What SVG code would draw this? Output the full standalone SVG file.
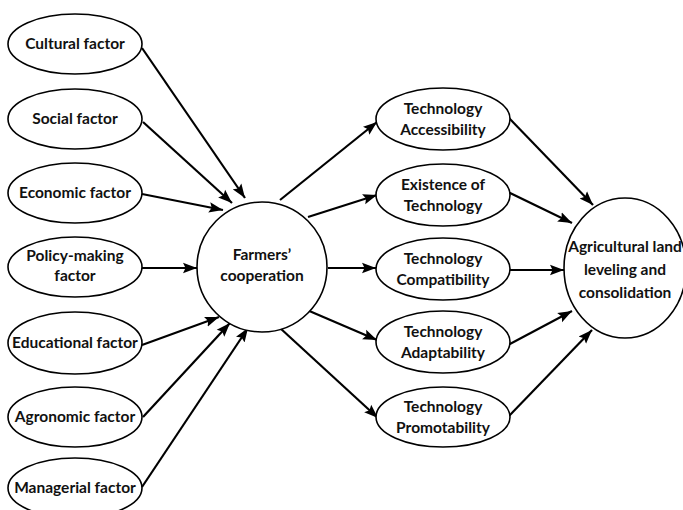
<svg xmlns="http://www.w3.org/2000/svg" width="683" height="510" viewBox="0 0 683 510">
  <style>
    .node { fill: #ffffff; stroke: #000000; stroke-width: 1.6; }
    .label { font-family: Lato, "Liberation Sans", sans-serif; font-weight: bold; font-size: 15.5px; fill: #111111; text-anchor: middle; }
    .edge { stroke: #000000; stroke-width: 2.2; fill: none; marker-end: url(#arrow); }
  </style>
  <defs>
    <marker id="arrow" markerUnits="userSpaceOnUse" markerWidth="15" markerHeight="12" viewBox="0 0 15 12" refX="14" refY="6" orient="auto">
      <path d="M0,0.8 L14,6 L0,11.2 L2.5,6 z" fill="#000000"/>
    </marker>
  </defs>
  <rect width="683" height="510" fill="#ffffff"/>

  <!-- connectors -->
  <g id="connectors">
    <line class="edge" x1="142" y1="48" x2="245" y2="198"/>
    <line class="edge" x1="143" y1="122" x2="232" y2="203"/>
    <line class="edge" x1="142" y1="194" x2="223" y2="210"/>
    <line class="edge" x1="142" y1="268" x2="197" y2="268"/>
    <line class="edge" x1="142" y1="345" x2="219" y2="317"/>
    <line class="edge" x1="143" y1="417" x2="230" y2="323"/>
    <line class="edge" x1="142" y1="487" x2="248" y2="328"/>
    <line class="edge" x1="280" y1="200" x2="377" y2="122"/>
    <line class="edge" x1="308" y1="217" x2="377" y2="195"/>
    <line class="edge" x1="328" y1="268" x2="376" y2="268"/>
    <line class="edge" x1="307" y1="310" x2="377" y2="340"/>
    <line class="edge" x1="280" y1="328" x2="378" y2="418"/>
    <line class="edge" x1="508" y1="117" x2="593" y2="205"/>
    <line class="edge" x1="508" y1="192" x2="572" y2="223"/>
    <line class="edge" x1="510" y1="270" x2="564" y2="270"/>
    <line class="edge" x1="508" y1="345" x2="572" y2="311"/>
    <line class="edge" x1="508" y1="417" x2="592" y2="330"/>
  </g>

  <!-- influencing factors -->
  <g id="cultural">
    <ellipse class="node" cx="75" cy="44" rx="67" ry="30"/>
    <text class="label" x="75" y="49">Cultural factor</text>
  </g>
  <g id="social">
    <ellipse class="node" cx="75" cy="119" rx="67" ry="30"/>
    <text class="label" x="75" y="124">Social factor</text>
  </g>
  <g id="economic">
    <ellipse class="node" cx="75" cy="193" rx="67" ry="30"/>
    <text class="label" x="75" y="198">Economic factor</text>
  </g>
  <g id="policy">
    <ellipse class="node" cx="75" cy="267" rx="67" ry="30"/>
    <text class="label" x="75" y="261">Policy-making</text>
    <text class="label" x="75" y="281">factor</text>
  </g>
  <g id="educational">
    <ellipse class="node" cx="75" cy="343" rx="67" ry="31"/>
    <text class="label" x="75" y="348">Educational factor</text>
  </g>
  <g id="agronomic">
    <ellipse class="node" cx="75" cy="417" rx="67" ry="30"/>
    <text class="label" x="75" y="422">Agronomic factor</text>
  </g>
  <g id="managerial">
    <ellipse class="node" cx="75" cy="488" rx="67" ry="30"/>
    <text class="label" x="75" y="493">Managerial factor</text>
  </g>

  <!-- mediator -->
  <g id="cooperation">
    <circle class="node" cx="262" cy="267" r="65"/>
    <text class="label" x="262" y="260">Farmers’</text>
    <text class="label" x="262" y="281">cooperation</text>
  </g>

  <!-- technology attributes -->
  <g id="accessibility">
    <ellipse class="node" cx="443" cy="119" rx="67" ry="31"/>
    <text class="label" x="443" y="114">Technology</text>
    <text class="label" x="443" y="135">Accessibility</text>
  </g>
  <g id="existence">
    <ellipse class="node" cx="443" cy="195" rx="67" ry="31"/>
    <text class="label" x="443" y="190">Existence of</text>
    <text class="label" x="443" y="211">Technology</text>
  </g>
  <g id="compatibility">
    <ellipse class="node" cx="443" cy="269" rx="67" ry="31"/>
    <text class="label" x="443" y="264">Technology</text>
    <text class="label" x="443" y="285">Compatibility</text>
  </g>
  <g id="adaptability">
    <ellipse class="node" cx="443" cy="342" rx="67" ry="31"/>
    <text class="label" x="443" y="337">Technology</text>
    <text class="label" x="443" y="358">Adaptability</text>
  </g>
  <g id="promotability">
    <ellipse class="node" cx="443" cy="417" rx="67" ry="30"/>
    <text class="label" x="443" y="412">Technology</text>
    <text class="label" x="443" y="433">Promotability</text>
  </g>

  <!-- outcome -->
  <g id="outcome">
    <ellipse class="node" cx="625" cy="268" rx="61" ry="70"/>
    <text class="label" x="625" y="252">Agricultural land</text>
    <text class="label" x="625" y="275">leveling and</text>
    <text class="label" x="625" y="298">consolidation</text>
  </g>
</svg>
